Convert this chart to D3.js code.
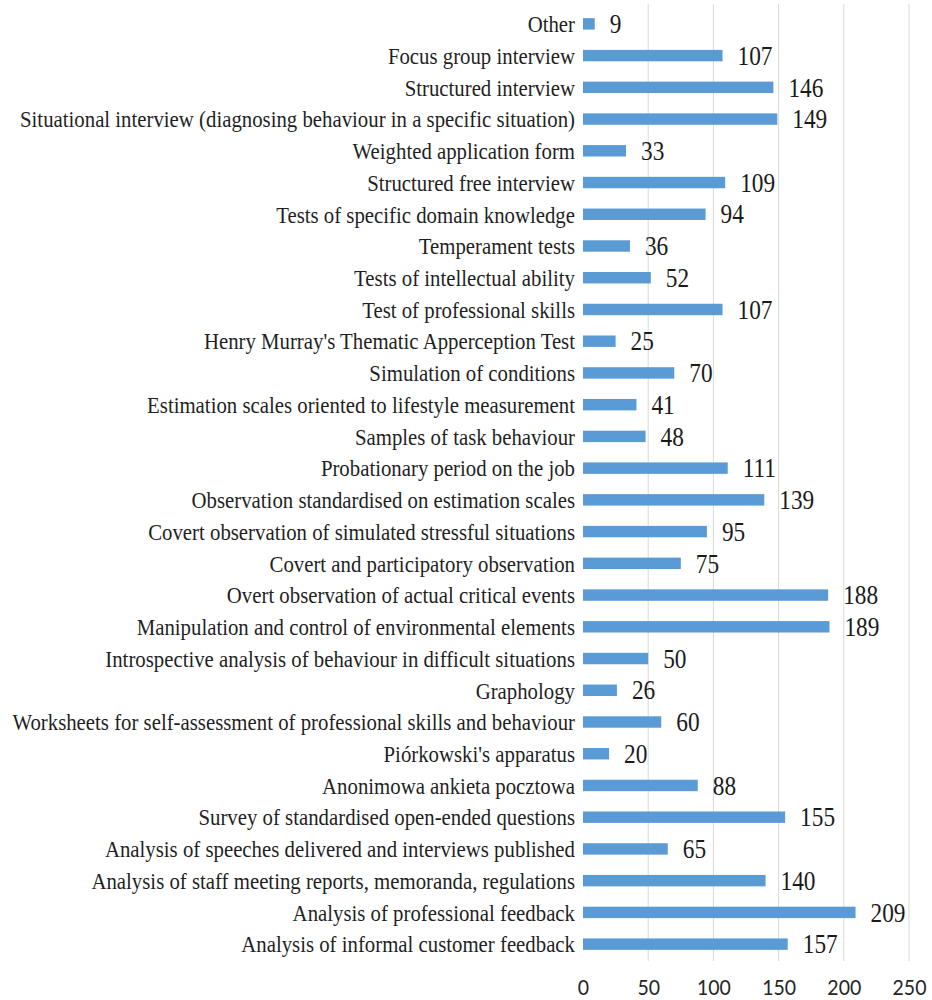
<!DOCTYPE html>
<html>
<head>
<meta charset="utf-8">
<script src="https://cdn.jsdelivr.net/npm/d3@7"></script>
<style>
  body { margin: 0; background: #fff; }
  svg { display: block; }
</style>
</head>
<body>
<div id="chart"></div>
<script>
// categories, top to bottom as drawn
const categories = [
  'Other',
  'Focus group interview',
  'Structured interview',
  'Situational interview (diagnosing behaviour in a specific situation)',
  'Weighted application form',
  'Structured free interview',
  'Tests of specific domain knowledge',
  'Temperament tests',
  'Tests of intellectual ability',
  'Test of professional skills',
  "Henry Murray's Thematic Apperception Test",
  'Simulation of conditions',
  'Estimation scales oriented to lifestyle measurement',
  'Samples of task behaviour',
  'Probationary period on the job',
  'Observation standardised on estimation scales',
  'Covert observation of simulated stressful situations',
  'Covert and participatory observation',
  'Overt observation of actual critical events',
  'Manipulation and control of environmental elements',
  'Introspective analysis of behaviour in difficult situations',
  'Graphology',
  'Worksheets for self-assessment of professional skills and behaviour',
  "Piórkowski's apparatus",
  'Anonimowa ankieta pocztowa',
  'Survey of standardised open-ended questions',
  'Analysis of speeches delivered and interviews published',
  'Analysis of staff meeting reports, memoranda, regulations',
  'Analysis of professional feedback',
  'Analysis of informal customer feedback'
];

const values = [
  9, 107, 146, 149, 33, 109, 94, 36, 52, 107,
  25, 70, 41, 48, 111, 139, 95, 75, 188, 189,
  50, 26, 60, 20, 88, 155, 65, 140, 209, 157
];

const xTicks = [0, 50, 100, 150, 200, 250];

const width = 932;
const height = 1000;
const stretch = 1.13; // the source picture is a bit taller than wide

const svg = d3.select('#chart')
  .append('svg')
  .attr('width', width)
  .attr('height', height);

const x = d3.scaleLinear()
  .domain([0, 250])
  .range([583, 909]);

// band step ~31.7px, first bar centre at y=24
const y = d3.scaleBand()
  .domain(categories)
  .range([8, 960])
  .paddingInner(0.64)
  .paddingOuter(0.32);

// gridlines (no line at 0)
svg.append('g')
  .selectAll('line')
  .data(xTicks.filter(t => t > 0))
  .join('line')
  .attr('x1', d => x(d))
  .attr('x2', d => x(d))
  .attr('y1', 4)
  .attr('y2', 961)
  .attr('stroke', '#d9d9d9')
  .attr('stroke-width', 1);

// bars
svg.append('g')
  .selectAll('rect')
  .data(values)
  .join('rect')
  .attr('x', x(0))
  .attr('y', (d, i) => y(categories[i]))
  .attr('width', d => x(d) - x(0))
  .attr('height', y.bandwidth())
  .attr('fill', '#5b9bd5');

const mid = name => y(name) + y.bandwidth() / 2;

// category labels
svg.append('g')
  .selectAll('text')
  .data(categories)
  .join('text')
  .attr('transform', d => `translate(575,${mid(d)}) scale(1,${stretch})`)
  .attr('dy', '0.35em')
  .attr('text-anchor', 'end')
  .attr('font-family', "'Liberation Serif', 'Times New Roman', serif")
  .attr('font-size', '20.8px')
  .attr('fill', '#1f1f1f')
  .text(d => d);

// value labels
svg.append('g')
  .selectAll('text')
  .data(values)
  .join('text')
  .attr('transform', (d, i) => `translate(${x(d) + 15},${mid(categories[i])}) scale(1,${stretch})`)
  .attr('dy', '0.35em')
  .attr('font-family', "'Liberation Serif', 'Times New Roman', serif")
  .attr('font-size', '23.3px')
  .attr('fill', '#1a1a1a')
  .text(d => d);

// x axis tick labels
const axis = svg.append('g')
  .attr('transform', 'translate(0,987)')
  .call(d3.axisBottom(x).tickValues(xTicks).tickSize(0).tickPadding(0));

axis.select('.domain').remove();
axis.selectAll('text')
  .attr('y', 0)
  .attr('dy', '0.35em')
  .attr('transform', `scale(1,${stretch})`)
  .attr('font-family', 'Lato, "Open Sans", sans-serif')
  .attr('font-size', '19.5px')
  .attr('fill', '#262626');
</script>
</body>
</html>
